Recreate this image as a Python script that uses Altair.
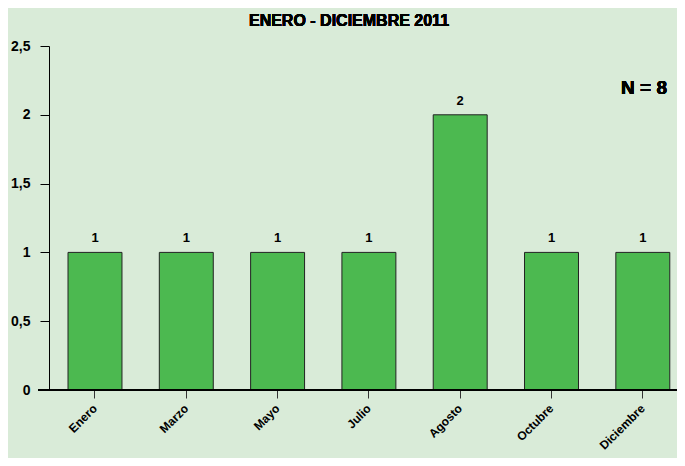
import altair as alt
import pandas as pd

meses = ["Enero", "Marzo", "Mayo", "Julio", "Agosto", "Octubre", "Diciembre"]
casos = [1, 1, 1, 1, 2, 1, 1]
y_ticks = [0, 0.5, 1, 1.5, 2, 2.5]
titulo = "ENERO - DICIEMBRE 2011"
nota = "N = 8"

df = pd.DataFrame({"mes": meses, "casos": casos})

W, H = 628, 344
FONT = "Liberation Sans"

base = alt.Chart(df)

x_scale = alt.Scale(paddingInner=0.409, paddingOuter=0.1436, align=0.725)

x_enc = alt.X("mes:N", sort=meses, title=None, scale=x_scale,
              axis=alt.Axis(labelAngle=-45, labelAlign="right", labelBaseline="middle",
                            labelFont=FONT, labelFontWeight="bold", labelFontSize=12,
                            labelColor="black", labelPadding=8, tickSize=8,
                            tickColor="#333333", domain=False, labelOverlap=False))
y_enc = alt.Y("casos:Q", title=None,
              scale=alt.Scale(domain=[0, 2.5], nice=False),
              axis=alt.Axis(values=y_ticks, grid=False, tickSize=9, tickColor="black",
                            domainColor="black", labelPadding=10,
                            labelFont=FONT, labelFontWeight="bold", labelFontSize=14,
                            labelColor="black",
                            labelExpr="replace(toString(datum.value), '.', ',')"))

bars = base.mark_bar(color="#4cb950", stroke="#222222", strokeWidth=1).encode(x=x_enc, y=y_enc)

labels = base.mark_text(font=FONT, fontWeight="bold", fontSize=13, baseline="alphabetic",
                        dy=-10, color="black").encode(
    x=alt.X("mes:N", sort=meses, scale=x_scale), y=alt.Y("casos:Q"), text="casos:Q")

xline = base.mark_rule(color="black", strokeWidth=1).encode(
    x=alt.value(-11), x2=alt.value(W), y=alt.value(H))

title_txt = base.mark_text(font=FONT, fontWeight="bold", fontSize=16, color="black",
                           baseline="alphabetic", align="center").encode(
    x=alt.value(300), y=alt.value(-20), text=alt.value(titulo))

n_txt = base.mark_text(font=FONT, fontWeight="bold", fontSize=19, color="black",
                       baseline="alphabetic", align="center").encode(
    x=alt.value(595), y=alt.value(48), text=alt.value(nota))

chart = alt.layer(bars, labels, xline, title_txt, n_txt).properties(
    width=W, height=H,
    autosize=alt.AutoSizeParams(type="none"),
    padding={"left": 41, "top": 38, "right": 0, "bottom": 68},
    background="#d9ebd8",
).configure_view(stroke=None)

chart.save("out.html", embed_options={"renderer": "svg", "actions": False})
